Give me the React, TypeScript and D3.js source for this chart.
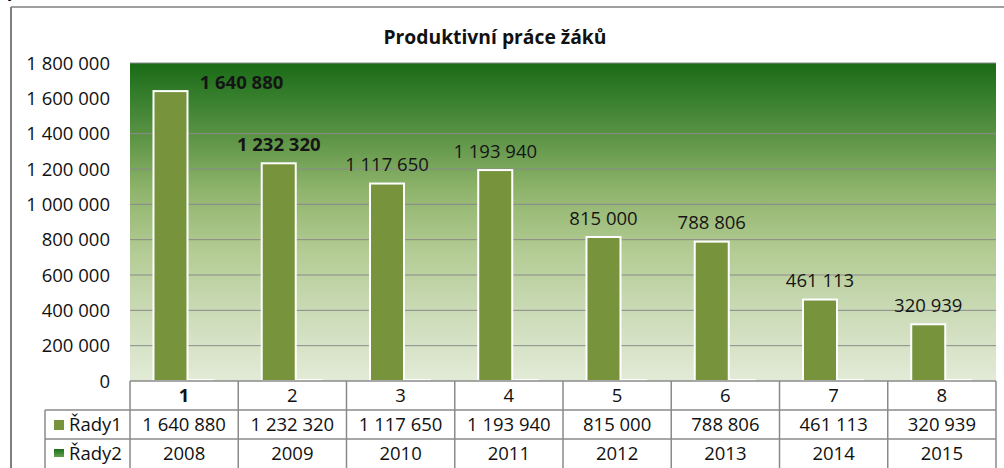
import React from 'react';
import * as d3 from 'd3';

const categories = ['1', '2', '3', '4', '5', '6', '7', '8'];
const series1 = [1640880, 1232320, 1117650, 1193940, 815000, 788806, 461113, 320939];
const series2 = [2008, 2009, 2010, 2011, 2012, 2013, 2014, 2015];
const seriesNames = ['Řady1', 'Řady2'];
const yTicks = [0, 200000, 400000, 600000, 800000, 1000000, 1200000, 1400000, 1600000, 1800000];
const title = 'Produktivní práce žáků';

// layout-only adjustments (label 1 was moved by hand in the original)
const labelShift = [{ dx: 71, dy: 10 }, null, null, null, null, null, null, null];
const boldLabels = [true, true, false, false, false, false, false, false];

const W = 1004;
const H = 468;
const L = 130;
const R = 996;
const T = 63;
const B = 381;
const ROW = 29;
const FONT = "'Open Sans', 'Noto Sans', sans-serif";
const GRID = '#8a8a8a';

const loc = d3.formatLocale({ thousands: '\u00a0', grouping: [3], decimal: ',', currency: ['', ''] });
const fmt = loc.format(',');

export default function App() {
  const x = d3.scaleBand<string>().domain(categories).range([L, R]).padding(0);
  const y = d3.scaleLinear().domain([0, 1800000]).range([B, T]);
  const bw = x.bandwidth();
  const barOff = bw * 0.217;
  const barW = 34;
  const bar2Off = bw * 0.452;

  return (
    <svg width={W} height={H} style={{ position: 'absolute', left: 0, top: 0, background: '#fff' }} fontFamily={FONT}>
      <defs>
        <linearGradient id="plotBg" x1="0" y1="0" x2="0" y2="1">
          <stop offset="0" stopColor="#1a6a16" />
          <stop offset="0.12" stopColor="#3a8130" />
          <stop offset="0.24" stopColor="#5e9547" />
          <stop offset="0.4" stopColor="#8fb46c" />
          <stop offset="0.6" stopColor="#b4cc95" />
          <stop offset="0.8" stopColor="#cddcb9" />
          <stop offset="1" stopColor="#e2ebd7" />
        </linearGradient>
        <linearGradient id="leg2" x1="0" y1="0" x2="0" y2="1">
          <stop offset="0" stopColor="#1e6e1a" />
          <stop offset="1" stopColor="#5fa04e" />
        </linearGradient>
      </defs>

      {/* outer chart border */}
      <line x1={11} y1={7} x2={W} y2={7} stroke="#7f7f7f" strokeWidth={1.5} />
      <line x1={11} y1={7} x2={11} y2={H} stroke="#7f7f7f" strokeWidth={2} />
      <text x={8} y={-3} fontSize={16} fill="#000" fontFamily={FONT}>y</text>

      {/* title */}
      <text x={495} y={44} textAnchor="middle" fontSize={19.3} fontWeight="bold" fill="#111">{title}</text>

      {/* plot area */}
      <rect x={L} y={T} width={R - L} height={B - T} fill="url(#plotBg)" />
      {yTicks.filter((t) => t > 0 && t < 1500000).map((t) => (
        <line key={t} x1={L} x2={R} y1={y(t)} y2={y(t)} stroke={GRID} strokeWidth={1} />
      ))}
      <line x1={L} x2={R} y1={T} y2={T} stroke={GRID} strokeWidth={1} />

      {/* y axis labels */}
      {yTicks.map((t) => (
        <text key={t} x={110} y={y(t)} dy="0.36em" textAnchor="end" fontSize={18.5} fill="#111">{fmt(t)}</text>
      ))}

      {/* series 2 (tiny bars) */}
      {series2.map((v, i) => {
        const x0 = (x(categories[i]) as number) + bar2Off;
        return (
          <rect key={'s2' + i} x={x0} y={y(v) - 1} width={35} height={B - y(v) + 0.5} fill="#ffffff" stroke="#ffffff" strokeWidth={1} />
        );
      })}

      {/* series 1 bars */}
      {series1.map((v, i) => {
        const x0 = (x(categories[i]) as number) + barOff;
        return (
          <rect key={'s1' + i} x={x0} y={y(v)} width={barW} height={B - y(v)} fill="#77933c" stroke="#ffffff" strokeWidth={2} />
        );
      })}

      {/* data labels */}
      {series1.map((v, i) => {
        const cx = (x(categories[i]) as number) + barOff + barW / 2;
        const sh = labelShift[i];
        const lx = cx + (sh ? sh.dx : 0);
        const ly = y(v) - 19 + (sh ? sh.dy : 0);
        return (
          <text key={'lb' + i} x={lx} y={ly} dy="0.36em" textAnchor="middle" fontSize={18.5}
            fontWeight={boldLabels[i] ? 'bold' : 'normal'} fill="#151515">{fmt(v)}</text>
        );
      })}

      {/* data table */}
      <line x1={L} x2={R} y1={B} y2={B} stroke={GRID} strokeWidth={1.5} />
      <line x1={45} x2={R} y1={B + ROW} y2={B + ROW} stroke={GRID} strokeWidth={1.5} />
      <line x1={45} x2={R} y1={B + 2 * ROW} y2={B + 2 * ROW} stroke={GRID} strokeWidth={1.5} />
      <line x1={45} x2={45} y1={B + ROW} y2={H} stroke={GRID} strokeWidth={1.5} />
      {categories.map((c) => (
        <line key={'v' + c} x1={x(c) as number} x2={x(c) as number} y1={B} y2={H} stroke={GRID} strokeWidth={1.5} />
      ))}
      <line x1={R} x2={R} y1={B} y2={H} stroke={GRID} strokeWidth={1.5} />

      {categories.map((c, i) => {
        const cx = (x(c) as number) + bw / 2;
        return (
          <g key={'t' + c}>
            <text x={cx} y={B + ROW / 2} dy="0.36em" textAnchor="middle" fontSize={18.5} fontWeight={i === 0 ? 'bold' : 'normal'} fill="#111">{c}</text>
            <text x={cx} y={B + ROW * 1.5} dy="0.36em" textAnchor="middle" fontSize={18.5} fill="#111">{fmt(series1[i])}</text>
            <text x={cx} y={B + ROW * 2.5} dy="0.36em" textAnchor="middle" fontSize={18.5} fill="#111">{String(series2[i])}</text>
          </g>
        );
      })}

      {/* legend keys in table */}
      <rect x={54} y={420} width={10} height={10} fill="#77933c" />
      <text x={69} y={B + ROW * 1.5} dy="0.36em" fontSize={18.5} fill="#111">{seriesNames[0]}</text>
      <rect x={54} y={449} width={10} height={8} fill="url(#leg2)" />
      <text x={69} y={B + ROW * 2.5} dy="0.36em" fontSize={18.5} fill="#111">{seriesNames[1]}</text>
    </svg>
  );
}
